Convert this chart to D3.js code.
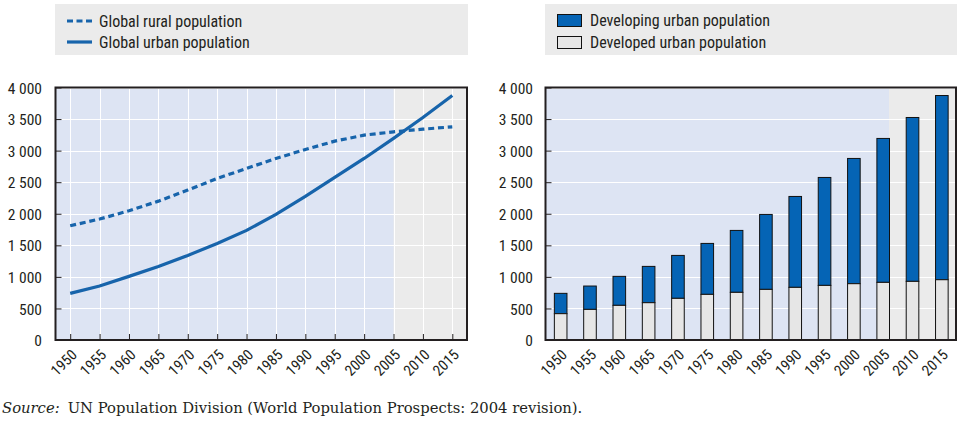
<!DOCTYPE html>
<html><head><meta charset="utf-8">
<script src="https://cdn.jsdelivr.net/npm/d3@7"></script>
<style>
body{margin:0;background:#fff;}
svg{display:block;}
.nar{font-family:"Liberation Sans Narrow","Arial Narrow","Roboto Condensed","DejaVu Sans Condensed",sans-serif;font-stretch:condensed;}
</style></head>
<body>
<svg id="c" width="965" height="421"></svg>
<script>
const years = [1950,1955,1960,1965,1970,1975,1980,1985,1990,1995,2000,2005,2010,2015];
const ruralPop = [1810,1916,2047,2200,2375,2559,2718,2876,3018,3150,3245,3298,3340,3377];
const urbanPop = [739,855,1008,1166,1340,1530,1736,1989,2274,2575,2876,3193,3525,3873];
const developedUrban = [417,485,549,591,660,723,755,802,834,865,892,913,929,955];
const developingUrban = [322,370,459,575,680,807,981,1187,1440,1710,1984,2280,2596,2918];
const yTicks = [0,500,1000,1500,2000,2500,3000,3500,4000];
const projectionStart = 2005;
const legendLeft = ["Global rural population","Global urban population"];
const legendRight = ["Developing urban population","Developed urban population"];
const sourceLabel = "Source:";
const sourceText = "UN Population Division (World Population Prospects: 2004 revision).";

const C = {line:"#1764ab", bar:"#0564b5", bg:"#dde4f3", proj:"#ebebeb", box:"#ebebeb", dev:"#e6e6e6", ink:"#231f20"};
const fmt = d3.formatLocale({decimal:".",thousands:"\u2009",grouping:[3],currency:["",""]}).format(",");
const fmtS = d => fmt(d).replace("\u2009"," ");
const svg = d3.select("#c");
const yTop = 87.5, yBot = 340;
const y = d3.scaleLinear().domain([0,4000]).range([yBot, yTop]);

function frame(x0, x1, xProj, vgrid, xs){
  const g = svg.append("g");
  g.append("rect").attr("x",x0).attr("y",yTop).attr("width",x1-x0).attr("height",yBot-yTop).attr("fill",C.bg);
  g.append("rect").attr("x",xProj).attr("y",yTop).attr("width",x1-xProj).attr("height",yBot-yTop).attr("fill",C.proj);
  g.selectAll(".hg").data(yTicks.slice(1)).join("line")
    .attr("x1",x0).attr("x2",x1).attr("y1",d=>Math.round(y(d))+0.5).attr("y2",d=>Math.round(y(d))+0.5)
    .attr("stroke","#fff").attr("stroke-width",1);
  if (vgrid) g.selectAll(".vg").data(years).join("line")
    .attr("x1",d=>Math.round(xs(d))+0.5).attr("x2",d=>Math.round(xs(d))+0.5).attr("y1",yTop).attr("y2",yBot)
    .attr("stroke","#fff").attr("stroke-width",1);
  return g;
}
function border(x0,x1,labelX){
  svg.append("rect").attr("x",x0).attr("y",yTop).attr("width",x1-x0).attr("height",yBot-yTop)
    .attr("fill","none").attr("stroke",C.ink).attr("stroke-width",2);
  const ax = svg.append("g").attr("transform",`translate(${x0},0)`)
    .call(d3.axisLeft(y).tickValues(yTicks).tickFormat(fmtS).tickSizeInner(-6).tickSizeOuter(0).tickPadding(x0-labelX));
  ax.select(".domain").remove();
  ax.selectAll(".tick line").attr("stroke",C.ink).attr("stroke-width",1);
  ax.selectAll(".tick text").attr("class","nar").attr("font-size",15.5).attr("fill",C.ink).attr("dy","0.36em");
}
function xLabels(pos, dx){
  svg.append("g").selectAll("text").data(years).join("text")
    .attr("class","nar").attr("font-size",15).attr("fill",C.ink).attr("text-anchor","end")
    .attr("transform",d=>`translate(${pos(d)+dx},${yBot+12}) rotate(-45)`)
    .attr("dy","0.35em").text(d=>d);
}

// LEFT CHART
const lx0 = 55.5, lx1 = 467;
const xl = d3.scalePoint().domain(years).range([lx0,lx1]).padding(0.5);
frame(lx0,lx1,xl(projectionStart),true,xl);
const lineGen = v => d3.line().x((d,i)=>xl(years[i])).y(d=>y(d))(v);
svg.append("path").attr("d",lineGen(ruralPop)).attr("fill","none").attr("stroke",C.line).attr("stroke-width",3.2).attr("stroke-dasharray","6,3.8");
svg.append("path").attr("d",lineGen(urbanPop)).attr("fill","none").attr("stroke",C.line).attr("stroke-width",3.2);
border(lx0,lx1,42);
const xt = svg.append("g").attr("transform",`translate(0,${yBot})`)
  .call(d3.axisBottom(xl).tickSizeInner(-6).tickSizeOuter(0).tickFormat(""));
xt.select(".domain").remove();
xt.selectAll(".tick line").attr("stroke",C.ink);
xLabels(xl, 4);

// RIGHT CHART
const rx0 = 545.5, rx1 = 956;
const xr = d3.scaleBand().domain(years).range([rx0,rx1]).paddingInner(0.57).paddingOuter(0.285);
frame(rx0,rx1,xr(projectionStart)+xr.bandwidth(),false,null);
const stack = years.map((yr,i)=>({yr, dev:developedUrban[i], ing:developingUrban[i]}));
svg.append("g").selectAll("rect").data(stack).join("rect")
  .attr("x",d=>xr(d.yr)+0.5).attr("width",xr.bandwidth())
  .attr("y",d=>y(d.dev+d.ing)).attr("height",d=>y(d.dev)-y(d.dev+d.ing))
  .attr("fill",C.bar).attr("stroke","#111").attr("stroke-width",1);
svg.append("g").selectAll("rect").data(stack).join("rect")
  .attr("x",d=>xr(d.yr)+0.5).attr("width",xr.bandwidth())
  .attr("y",d=>y(d.dev)).attr("height",d=>y(0)-y(d.dev))
  .attr("fill",C.dev).attr("stroke","#111").attr("stroke-width",1);
border(rx0,rx1,533);
xLabels(d=>xr(d)+xr.bandwidth()/2, 4);

// LEGENDS
svg.append("rect").attr("x",55).attr("y",4).attr("width",413).attr("height",51).attr("fill",C.box);
svg.append("rect").attr("x",545).attr("y",4).attr("width",412).attr("height",51).attr("fill",C.box);
svg.append("line").attr("x1",67).attr("x2",92).attr("y1",21).attr("y2",21).attr("stroke",C.line).attr("stroke-width",3.2).attr("stroke-dasharray","6,3.5");
svg.append("line").attr("x1",67).attr("x2",92).attr("y1",42).attr("y2",42).attr("stroke",C.line).attr("stroke-width",3.2);
legendLeft.forEach((t,i)=>svg.append("text").attr("class","nar").attr("x",99).attr("y",21+i*21).attr("dy","0.36em").attr("font-size",16).attr("fill",C.ink).text(t));
svg.append("rect").attr("x",557.5).attr("y",14.5).attr("width",24).attr("height",12).attr("fill",C.bar).attr("stroke","#111");
svg.append("rect").attr("x",557.5).attr("y",36.5).attr("width",24).attr("height",12).attr("fill",C.dev).attr("stroke","#111");
legendRight.forEach((t,i)=>svg.append("text").attr("class","nar").attr("x",590).attr("y",20.5+i*22).attr("dy","0.36em").attr("font-size",16).attr("fill",C.ink).text(t));

// SOURCE
const src = svg.append("text").attr("x",2).attr("y",413).attr("font-family","'DejaVu Serif','Liberation Serif',serif").attr("font-size",15).attr("fill",C.ink);
src.append("tspan").attr("font-style","italic").text(sourceLabel);
src.append("tspan").attr("dx",8).text(sourceText);
const targetW = 573;
const w = src.node().getComputedTextLength();
if (w > 0) src.attr("font-size", Math.max(12, Math.min(17, 15*targetW/w)));
</script>
</body></html>
